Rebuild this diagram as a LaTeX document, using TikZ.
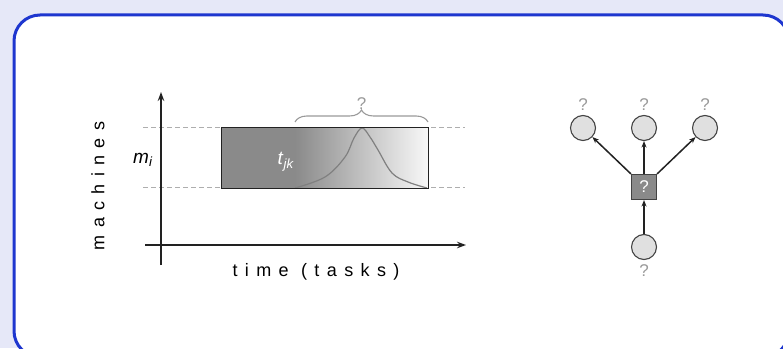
\documentclass[tikz,border=0pt]{standalone}
\usepackage{fontspec}
\setmainfont{Liberation Sans}
\usepackage{tikz}
\usetikzlibrary{arrows.meta,decorations.pathreplacing}
\definecolor{frameblue}{HTML}{1E36CF}
\definecolor{pagelilac}{HTML}{E6E8F8}
\definecolor{taskdark}{HTML}{8A8A8A}
\definecolor{tasklight}{HTML}{F8F8F8}
\definecolor{qgray}{HTML}{9A9A9A}
\definecolor{nodegray}{HTML}{E0E0E0}
\definecolor{ink}{HTML}{222222}
\newcommand{\fs}[1]{\fontsize{#1}{#1}\selectfont}

\begin{document}
\begin{tikzpicture}[
  x=1pt,y=1pt,
  axis/.style={-{Stealth[length=9pt,width=6.5pt]},line width=1.5pt,draw=ink},
  guide/.style={draw=qgray!80,line width=1pt,dash pattern=on 5pt off 3pt},
  qmark/.style={text=qgray,font=\fs{17},inner sep=1pt},
  spaced/.style={font=\fs{18}\addfontfeature{LetterSpace=41}},
  task/.style={rectangle,minimum width=206pt,minimum height=60pt,inner sep=0pt},
  var/.style={circle,draw=ink!85,fill=nodegray,line width=1.1pt,
    minimum size=25pt,inner sep=0pt},
  fac/.style={rectangle,draw=ink!85,fill=taskdark,line width=1.1pt,
    minimum size=25pt,inner sep=0pt,text=white,font=\fs{17}},
  link/.style={-{Stealth[length=6.5pt,width=5pt]},line width=1.5pt,draw=ink}
]
\useasboundingbox (0,0) rectangle (783,348);
\fill[pagelilac] (0,0) rectangle (783,348);
\begin{scope}
  \clip (0,0) rectangle (783,348);
  \draw[frameblue,fill=white,line width=3pt,rounded corners=26pt] (14,333) rectangle (789,-9);
\end{scope}
% schedule plot
\coordinate (gt0) at (143,220); \coordinate (gt1) at (465,220);
\coordinate (gb0) at (143,160); \coordinate (gb1) at (465,160);
\draw[guide] (gt0)--(gt1); \draw[guide] (gb0)--(gb1);
\node[task] (task) at (325,190) {};
\coordinate (bl) at (295,226); \coordinate (br) at (428,226);
\fill[taskdark] (task.south west) rectangle (bl |- task.north);
\shade[left color=taskdark,right color=tasklight] (bl |- task.south) rectangle (task.north east);
\draw[gray,line width=1.2pt] plot[smooth,tension=.6] coordinates {(295,160) (325,171) (345,191) (354,210) (362,220) (370,211) (378,198) (392,175) (408,166) (427,160)};
\draw[ink,line width=1pt] (task.south west) rectangle (task.north east);
\node[text=white,font=\fs{19}] (tjk) at (286,186) {\textit{t}\textsubscript{\textit{jk}}};
\draw[qgray,line width=1.1pt,decorate,decoration={brace,amplitude=12pt}] (bl)--(br)
  node[midway,above=11pt,qmark] (bq) {?};
\coordinate (x0) at (145,103); \coordinate (x1) at (466,103);
\coordinate (y0) at (161,83); \coordinate (y1) at (161,256);
\draw[axis] (x0)--(x1); \draw[axis] (y0)--(y1);
\node[font=\fs{19}] (mi) at (143,188) {\textit{m}\textsubscript{\textit{i}}};
\node[rotate=90,spaced] (ylab) at (98,162) {machines};
\node[spaced] (xlab) at (316,76) {time (tasks)};
% factor graph
\node[fac] (f) at (644,161) {?};
\node[var,label={[qmark,label distance=3pt]above:?}] (v1) at (583,220) {};
\node[var,label={[qmark,label distance=3pt]above:?}] (v2) at (644,220) {};
\node[var,label={[qmark,label distance=3pt]above:?}] (v3) at (705,220) {};
\node[var,label={[qmark,label distance=3pt]below:?}] (v0) at (644,101) {};
\draw[link] (f.north west)--(v1);
\draw[link] (f.north)--(v2);
\draw[link] (f.north east)--(v3);
\draw[link] (v0)--(f);
\end{tikzpicture}
\end{document}
